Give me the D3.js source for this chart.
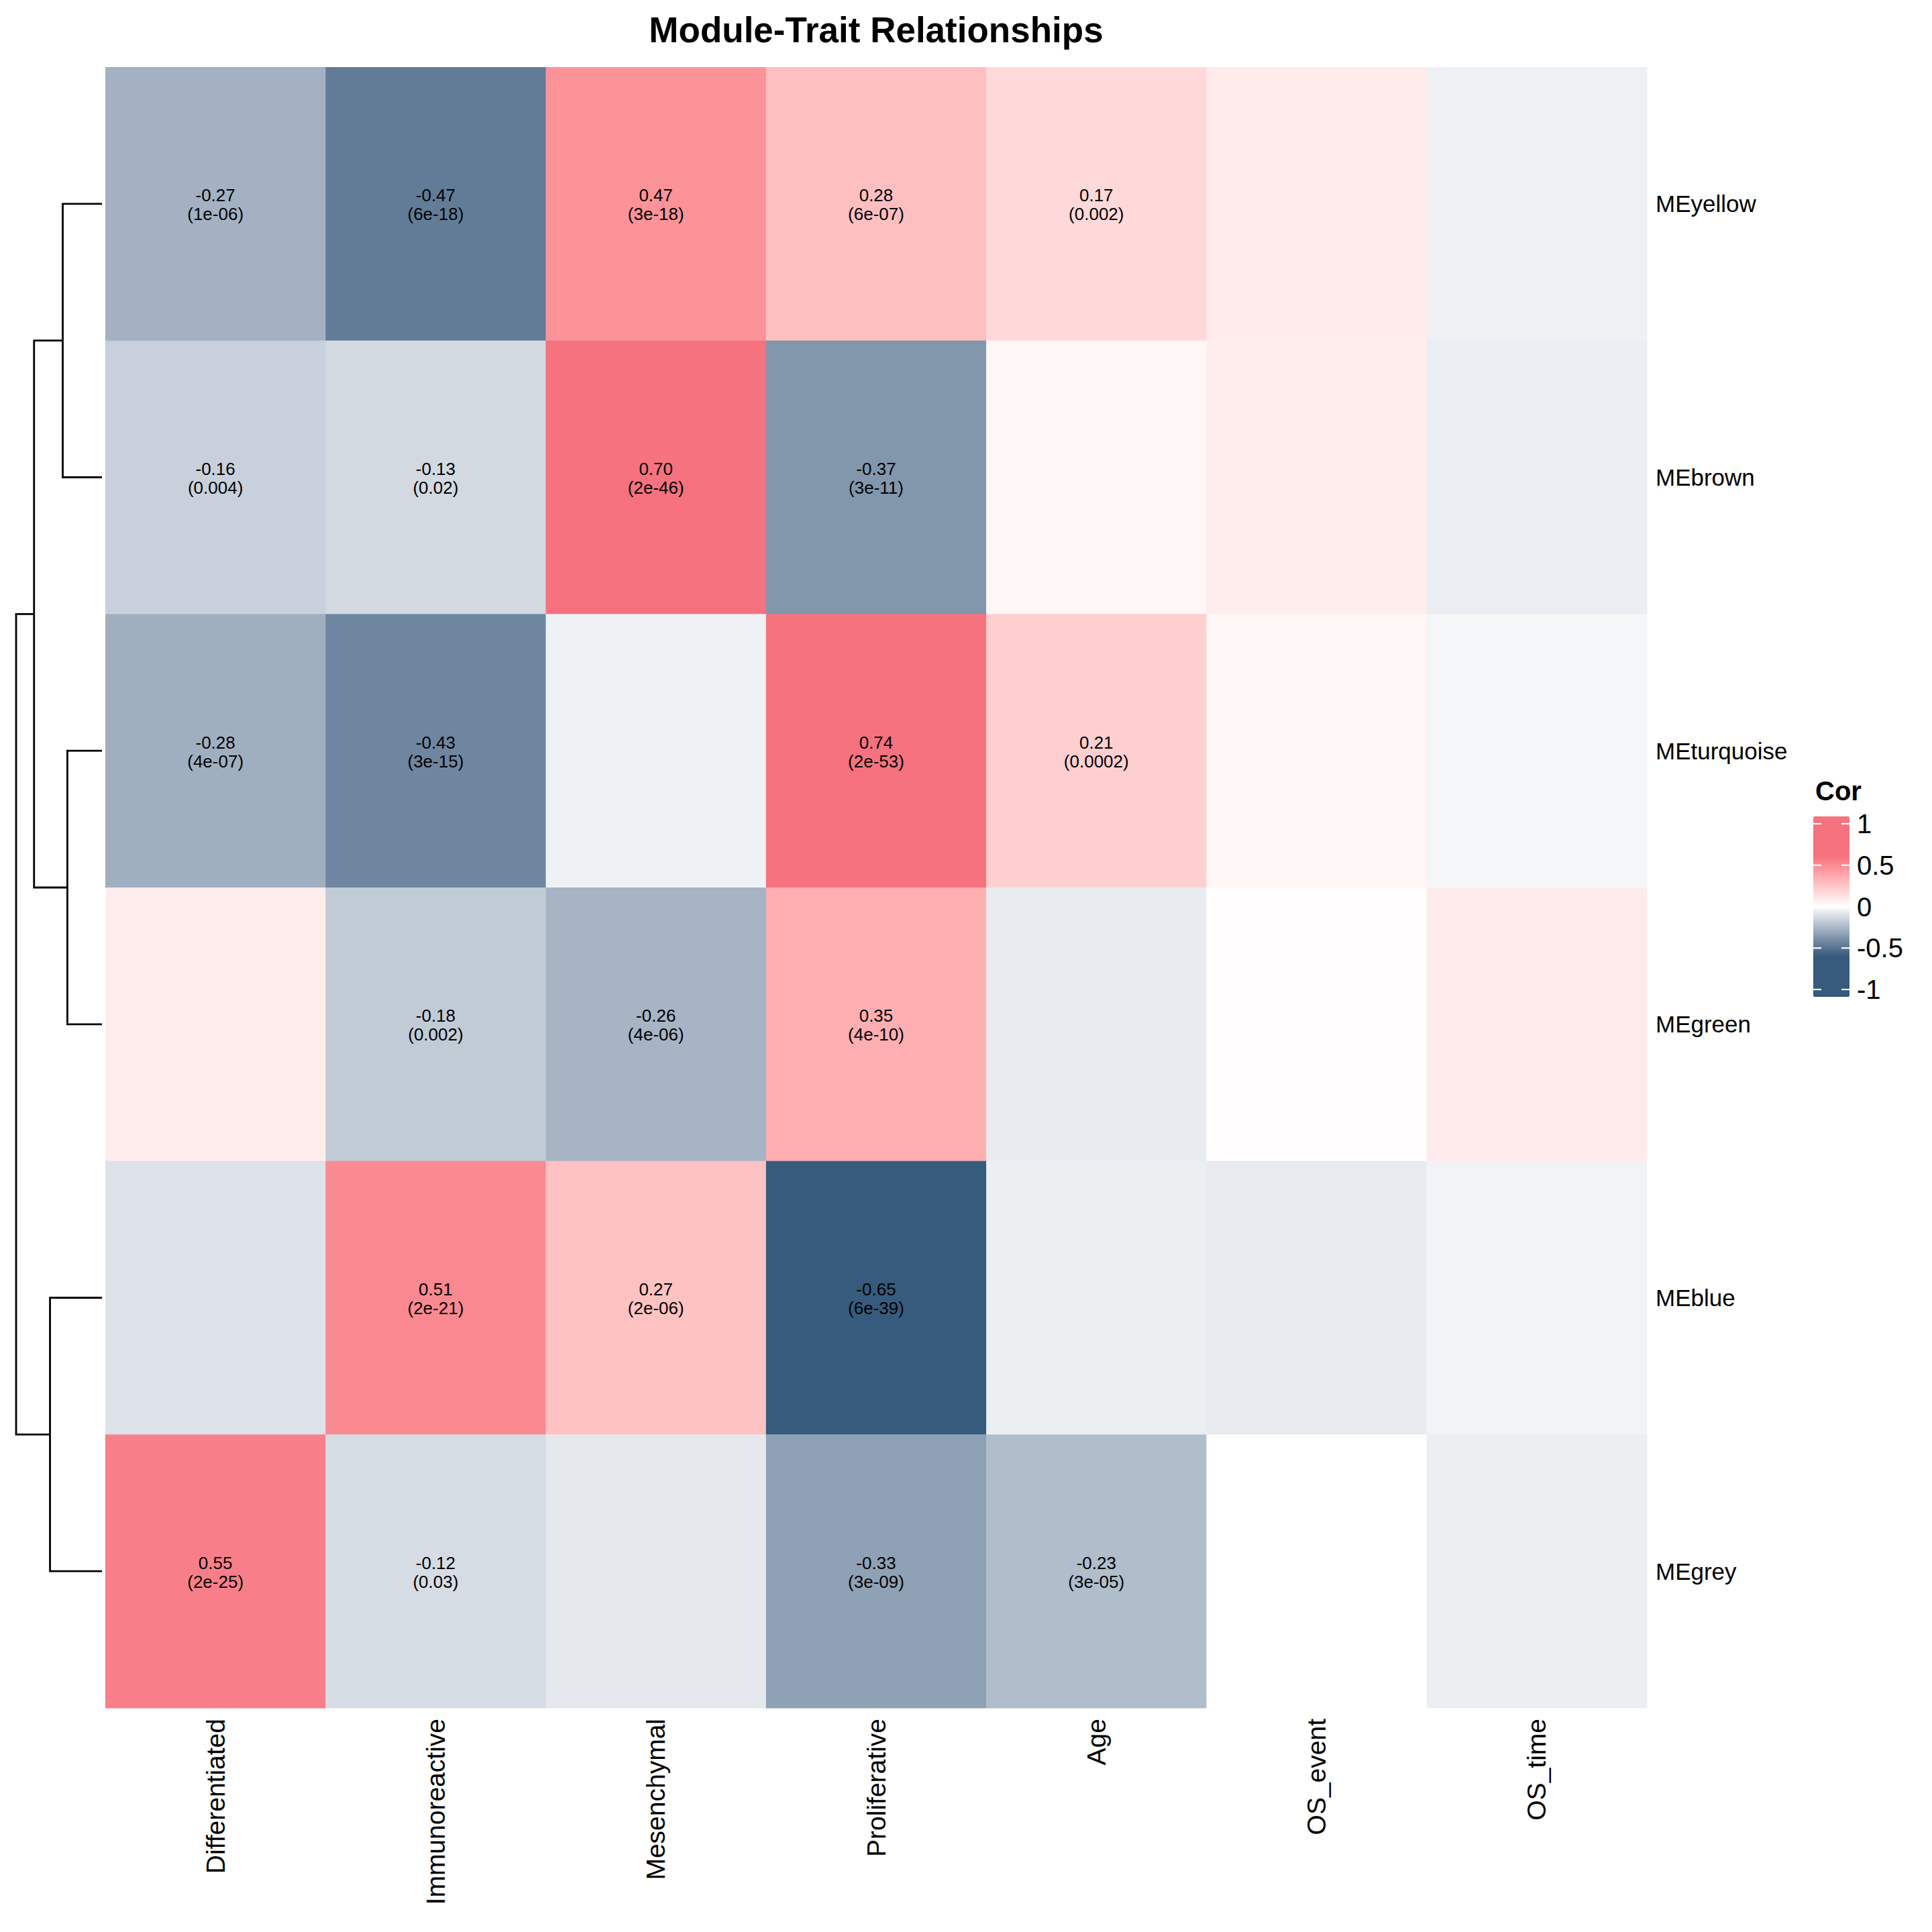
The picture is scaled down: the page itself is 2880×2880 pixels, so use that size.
<!DOCTYPE html>
<html>
<head>
<meta charset="utf-8">
<script src="https://cdn.jsdelivr.net/npm/d3@7"></script>
<style>
  body { margin: 0; background: #fff; }
  text { font-family: "Liberation Sans", Arial, Helvetica, sans-serif; }
</style>
</head>
<body>
<div id="main"></div>
<script>
/* size */
const width = 2880, height = 2880;

/* data */
const modules = ["MEyellow", "MEbrown", "MEturquoise", "MEgreen", "MEblue", "MEgrey"];
const traits = ["Differentiated", "Immunoreactive", "Mesenchymal", "Proliferative", "Age", "OS_event", "OS_time"];

// correlation per module (rows) and trait (cols)
const corValues = [
  [-0.27, -0.47,  0.47,  0.28,  0.17,  0.09, -0.05],
  [-0.16, -0.13,  0.70, -0.37,  0.04,  0.08, -0.06],
  [-0.28, -0.43, -0.045, 0.74,  0.21,  0.04, -0.03],
  [ 0.08, -0.18, -0.26,  0.35, -0.065, 0.01,  0.09],
  [-0.10,  0.51,  0.27, -0.65, -0.055,-0.07, -0.04],
  [ 0.55, -0.12, -0.075,-0.33, -0.23,  0.00, -0.055]
];
// p-values, null = not significant (no label)
const pValues = [
  [1e-06, 6e-18, 3e-18, 6e-07, 0.002,  null, null],
  [0.004, 0.02,  2e-46, 3e-11, null,   null, null],
  [4e-07, 3e-15, null,  2e-53, 0.0002, null, null],
  [null,  0.002, 4e-06, 4e-10, null,   null, null],
  [null,  2e-21, 2e-06, 6e-39, null,   null, null],
  [2e-25, 0.03,  null,  3e-09, 3e-05,  null, null]
];

// row dendrogram: [left, right, height]; numbers point at earlier merges
const merges = [
  ["MEyellow", "MEbrown", 0.457],
  ["MEturquoise", "MEgreen", 0.403],
  ["MEblue", "MEgrey", 0.605],
  [0, 1, 0.791],
  [3, 2, 1.0]
];

const legendTicks = [1, 0.5, 0, -0.5, -1];

/* scales */
const x = d3.scaleBand().domain(traits).range([157, 2455]);
const y = d3.scaleBand().domain(modules).range([100, 2546]);

const color = d3.scaleLinear()
  .domain([-0.6, 0, 0.6])
  .range(["#365b7c", "#ffffff", "#f6727f"])
  .interpolate(d3.interpolateLab)
  .clamp(true);

const xDen = d3.scaleLinear().domain([0, 1]).range([152, 24]);

const fmtP = p => p >= 1e-4 ? String(p)
  : p.toExponential(0).replace(/e-(\d)$/, "e-0$1");
const fmtNum = v => String(v).replace("\u2212", "-");

const svg = d3.select("#main").append("svg")
  .attr("width", width).attr("height", height);

/* title */
svg.append("text")
  .attr("x", (x.range()[0] + x.range()[1]) / 2)
  .attr("y", 63)
  .attr("text-anchor", "middle")
  .attr("font-size", 53)
  .attr("font-weight", "bold")
  .text("Module-Trait Relationships");

/* cells */
const cells = [];
modules.forEach((m, i) => traits.forEach((t, j) => {
  cells.push({module: m, trait: t, r: corValues[i][j], p: pValues[i][j]});
}));

svg.append("g").selectAll("rect")
  .data(cells).join("rect")
  .attr("x", d => x(d.trait))
  .attr("y", d => y(d.module))
  .attr("width", x.bandwidth() + 0.5)
  .attr("height", y.bandwidth() + 0.5)
  .attr("fill", d => color(d.r));

const labels = svg.append("g").selectAll("text")
  .data(cells.filter(d => d.p !== null)).join("text")
  .attr("text-anchor", "middle")
  .attr("font-size", 26)
  .attr("fill", "#000");
labels.append("tspan")
  .attr("x", d => x(d.trait) + x.bandwidth() / 2)
  .attr("y", d => y(d.module) + y.bandwidth() / 2 - 3.5)
  .text(d => d.r.toFixed(2));
labels.append("tspan")
  .attr("x", d => x(d.trait) + x.bandwidth() / 2)
  .attr("y", d => y(d.module) + y.bandwidth() / 2 + 24.5)
  .text(d => "(" + fmtP(d.p) + ")");

/* row names */
svg.append("g").selectAll("text")
  .data(modules).join("text")
  .attr("x", 2468)
  .attr("y", d => y(d) + y.bandwidth() / 2)
  .attr("dominant-baseline", "central")
  .attr("font-size", 35)
  .text(d => d);

/* column names */
svg.append("g").selectAll("text")
  .data(traits).join("text")
  .attr("transform", d => `translate(${x(d) + x.bandwidth() / 2},2562) rotate(-90)`)
  .attr("text-anchor", "end")
  .attr("dominant-baseline", "central")
  .attr("font-size", 39)
  .text(d => d);

/* dendrogram */
const nodes = [];
const getNode = k => typeof k === "number" ? nodes[k]
  : {y: y(k) + y.bandwidth() / 2, h: 0};
const dendro = svg.append("g")
  .attr("fill", "none")
  .attr("stroke", "#000")
  .attr("stroke-width", 2.8);
merges.forEach(([a, b, h]) => {
  const na = getNode(a), nb = getNode(b);
  const node = {y: (na.y + nb.y) / 2, h: h};
  nodes.push(node);
  dendro.append("path")
    .attr("d", `M${xDen(na.h)},${na.y}H${xDen(h)}V${nb.y}H${xDen(nb.h)}`);
});

/* legend */
const ly = d3.scaleLinear().domain([-1, 1]).range([1475, 1228]);
const lx0 = 2703, lw = 54;
const grad = svg.append("defs").append("linearGradient")
  .attr("id", "corGrad")
  .attr("x1", 0).attr("x2", 0).attr("y1", 1).attr("y2", 0);
const vLo = ly.invert(1486), vHi = ly.invert(1217);
d3.range(0, 1.0001, 0.02).forEach(f => {
  grad.append("stop")
    .attr("offset", f)
    .attr("stop-color", color(vLo + f * (vHi - vLo)));
});

const legend = svg.append("g");
legend.append("text")
  .attr("x", 2706).attr("y", 1193)
  .attr("font-size", 40)
  .attr("font-weight", "bold")
  .text("Cor");
legend.append("rect")
  .attr("x", lx0).attr("y", 1217)
  .attr("width", lw).attr("height", 1486 - 1217)
  .attr("rx", 2)
  .attr("fill", "url(#corGrad)");
legend.selectAll("line.l")
  .data(legendTicks).join("line")
  .attr("x1", lx0).attr("x2", lx0 + 12)
  .attr("y1", d => ly(d)).attr("y2", d => ly(d))
  .attr("stroke", "#fff").attr("stroke-width", 2.2);
legend.selectAll("line.r")
  .data(legendTicks).enter().append("line")
  .attr("x1", lx0 + lw - 12).attr("x2", lx0 + lw)
  .attr("y1", d => ly(d)).attr("y2", d => ly(d))
  .attr("stroke", "#fff").attr("stroke-width", 2.2);
legend.selectAll("text.tick")
  .data(legendTicks).enter().append("text")
  .attr("class", "tick")
  .attr("x", 2768)
  .attr("y", d => ly(d))
  .attr("dominant-baseline", "central")
  .attr("font-size", 40)
  .text(d => fmtNum(d));
</script>
</body>
</html>
